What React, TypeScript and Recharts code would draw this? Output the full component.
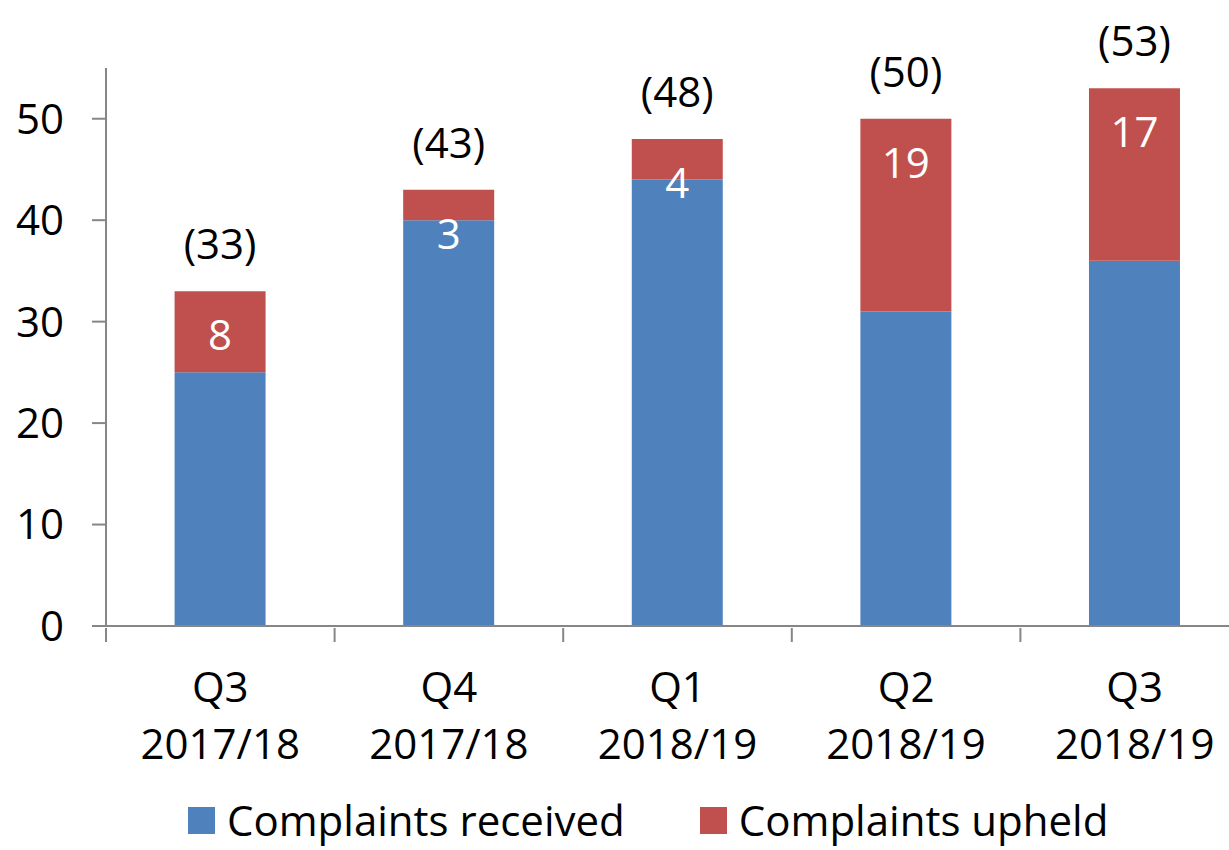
import React from 'react';
import { BarChart, Bar, XAxis, YAxis, LabelList, Legend } from 'recharts';

const quarters = ['Q3', 'Q4', 'Q1', 'Q2', 'Q3'];
const years = ['2017/18', '2017/18', '2018/19', '2018/19', '2018/19'];
const received = [25, 40, 44, 31, 36];
const upheld = [8, 3, 4, 19, 17];
const yTicks = [0, 10, 20, 30, 40, 50];

const data = quarters.map((q, i) => ({
  label: `${q} ${years[i]}`,
  received: received[i],
  upheld: upheld[i],
  total: received[i] + upheld[i],
}));

const FONT = '"Open Sans", sans-serif';
const FS = 42;
const BLUE = '#4F81BD';
const RED = '#C0504D';
const AXIS = '#868686';

// tick lines sit on the band edges, labels in the band centre
function CategoryTick({ x, y, payload }: any) {
  const i = payload.index;
  const half = payload.offset || 0;
  return (
    <g>
      {half > 0 && <line x1={x - half} x2={x - half} y1={y} y2={y + 14} stroke={AXIS} strokeWidth={2} />}
      {half > 0 && i === quarters.length - 1 && (
        <line x1={x + half} x2={x + half} y1={y} y2={y + 14} stroke={AXIS} strokeWidth={2} />
      )}
      <text x={x} y={y} textAnchor="middle" fontSize={FS} fontFamily={FONT} fill="#000">
        <tspan x={x} dy={74}>{quarters[i]}</tspan>
        <tspan x={x} dy={57}>{years[i]}</tspan>
      </text>
    </g>
  );
}

function UpheldLabel({ x, y, width, value }: any) {
  return (
    <text x={x + width / 2} y={y + 59} textAnchor="middle" fontSize={FS} fontFamily={FONT} fill="#fff">
      {value}
    </text>
  );
}

function TotalLabel({ x, y, width, value }: any) {
  return (
    <text x={x + width / 2} y={y - 32} textAnchor="middle" fontSize={FS} fontFamily={FONT} fill="#000">
      ({value})
    </text>
  );
}

function LegendBox() {
  const items = [
    { name: 'Complaints received', color: BLUE },
    { name: 'Complaints upheld', color: RED },
  ];
  return (
    <div style={{ display: 'flex', alignItems: 'center', gap: 75, fontFamily: FONT, fontSize: 42 }}>
      {items.map((it) => (
        <div key={it.name} style={{ display: 'flex', alignItems: 'center', gap: 12 }}>
          <div style={{ width: 27, height: 27, background: it.color }} />
          <span style={{ lineHeight: '50px', color: '#000', whiteSpace: 'nowrap' }}>{it.name}</span>
        </div>
      ))}
    </div>
  );
}

export default function App() {
  return (
    <div style={{ position: 'absolute', left: 0, top: 0, width: 1229, height: 850, overflow: 'hidden', background: '#fff', fontFamily: FONT }}>
      <BarChart
        width={1260}
        height={850}
        data={data}
        margin={{ top: 68, right: 11, bottom: 223, left: 0 }}
        barCategoryGap="30%"
      >
        <XAxis
          dataKey="label"
          height={1}
          interval={0}
          axisLine={{ stroke: AXIS, strokeWidth: 2 }}
          tickLine={false}
          tickSize={0}
          tick={<CategoryTick />}
        />
        <YAxis
          domain={[0, 55]}
          ticks={yTicks}
          width={106}
          tickSize={14}
          tickMargin={28}
          axisLine={{ stroke: AXIS, strokeWidth: 2 }}
          tickLine={{ stroke: AXIS, strokeWidth: 2 }}
          tick={{ fontSize: FS, fill: '#000', fontFamily: FONT }}
        />
        <Legend
          verticalAlign="middle"
          content={<LegendBox />}
          wrapperStyle={{ position: 'absolute', top: 795, left: 188, width: 'auto' }}
        />
        <Bar dataKey="received" stackId="a" fill={BLUE} isAnimationActive={false} />
        <Bar dataKey="upheld" stackId="a" fill={RED} isAnimationActive={false}>
          <LabelList dataKey="upheld" content={<UpheldLabel />} />
          <LabelList dataKey="total" content={<TotalLabel />} />
        </Bar>
      </BarChart>
    </div>
  );
}
